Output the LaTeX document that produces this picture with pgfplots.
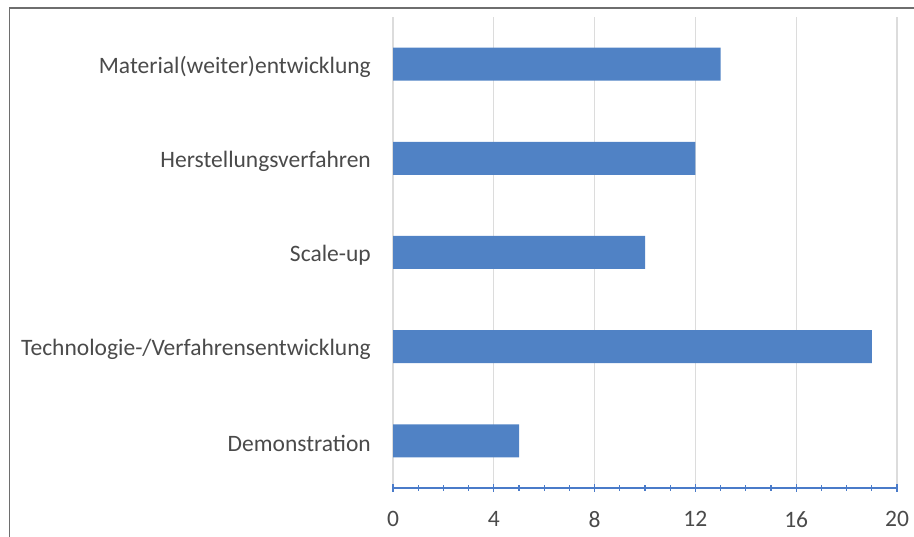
\documentclass[border=0pt]{standalone}
\usepackage{pgfplots}
\pgfplotsset{compat=1.18}
\usepackage{fontspec}
\setmainfont{Carlito}
\definecolor{barblue}{HTML}{5082C5}
\definecolor{axblue}{HTML}{4A7BC9}
\definecolor{txt}{HTML}{4A4A4A}
\definecolor{gridc}{HTML}{DCDCDC}
\definecolor{framec}{HTML}{6E6E6E}
\begin{document}
\begin{tikzpicture}
\path[use as bounding box] (0bp,0bp) rectangle (914bp,537bp);
\draw[framec, line width=1.5bp] (9.5bp,0bp) -- (9.5bp,529bp) -- (914bp,529bp);
\begin{axis}[
  at={(393bp,49bp)}, anchor=south west,
  width=504bp, height=471bp, scale only axis,
  xmin=0, xmax=20, ymin=-0.5, ymax=4.5,
  xbar, bar width=33bp,
  axis x line*=bottom, axis y line*=left,
  x axis line style={-, draw=axblue, line width=1.3bp},
  y axis line style={draw=none},
  xtick={0,4,8,12,16,20},
  minor x tick num=3,
  xtick style={draw=axblue, line width=1.3bp},
  tick align=center,
  major tick length=8bp, minor tick length=6bp,
  xmajorgrids,
  major x grid style={draw=gridc, line width=1.2bp},
  ytick={0,1,2,3,4},
  ytick style={draw=none},
  yticklabels={Demonstration, Technologie-/Verfahrensentwicklung, Scale-up, Herstellungsverfahren, Material(weiter)entwicklung},
  tick label style={font=\fontsize{23.6}{28}\selectfont, text=txt},
  /pgf/number format/assume math mode=true,
  yticklabel style={anchor=east, inner sep=0pt, xshift=-18bp, yshift=-3bp},
  xticklabel style={anchor=north, inner sep=0pt, yshift=-19bp},
]
\addplot[fill=barblue, draw=none] coordinates {(5,0) (19,1) (10,2) (12,3) (13,4)};
\end{axis}
\end{tikzpicture}
\end{document}
